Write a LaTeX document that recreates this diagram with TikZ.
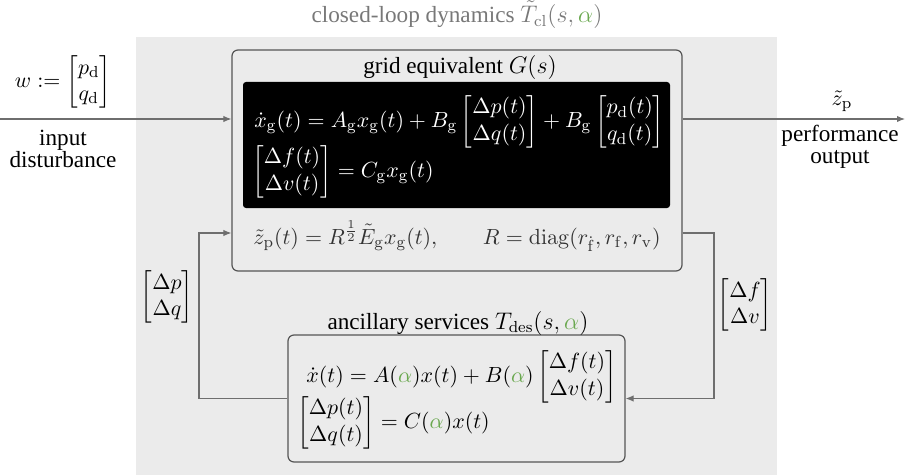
\documentclass[tikz,border=0pt]{standalone}
\usepackage{amsmath}
\usepackage[no-math]{fontspec}
\setmainfont{Liberation Serif}
\usetikzlibrary{arrows.meta}
\definecolor{bggrey}{RGB}{235,235,235}
\definecolor{framegrey}{RGB}{85,85,85}
\definecolor{wiregrey}{RGB}{110,110,110}
\definecolor{titlegrey}{RGB}{120,120,120}
\definecolor{alphagreen}{RGB}{106,168,79}
\newcommand{\ga}{{\color{alphagreen}\alpha}}
\tikzset{
  txt/.style={font=\fontsize{11.6}{11}\selectfont, align=center, inner sep=0pt},
  mlab/.style={font=\fontsize{11}{13}\selectfont, inner sep=0pt},
  blockbox/.style={draw=framegrey, line width=0.6pt, rounded corners=3pt, fill=bggrey},
  darkbox/.style={fill=black, rounded corners=1.5pt},
  wire/.style={draw=wiregrey, line width=0.55pt},
  arr/.style={wire, -{Latex[length=4pt,width=3.2pt]}},
  eqn/.style={inner sep=0pt, font=\fontsize{11.3}{13.5}\selectfont},
}
\begin{document}
\begin{tikzpicture}[x=0.5pt,y=-0.5pt]
  \useasboundingbox (0,0) rectangle (905,476);
  % shaded area of the closed loop
  \fill[bggrey] (136,37) rectangle (777,475);
  \node[txt, text=titlegrey] (cltitle) at (457,15) {closed-loop dynamics $\tilde{T}_{\mathrm{cl}}(s,\ga)$};

  % grid equivalent block
  \node[blockbox, minimum width=225pt, minimum height=110.5pt] (grid) at (457,160.5) {};
  \node[txt] (gridtitle) at (460,68) {grid equivalent $G(s)$};
  \node[darkbox, minimum width=213.5pt, minimum height=63pt] (blk) at (456.5,145) {};
  \node[eqn, text=white, anchor=west] (geq1) at (254,122)
    {$\dot{x}_{\mathrm{g}}(t) = A_{\mathrm{g}} x_{\mathrm{g}}(t) + B_{\mathrm{g}} \begin{bmatrix}\Delta p(t)\\ \Delta q(t)\end{bmatrix} + B_{\mathrm{g}} \begin{bmatrix}p_{\mathrm{d}}(t)\\ q_{\mathrm{d}}(t)\end{bmatrix}$};
  \node[eqn, text=white, anchor=west] (geq2) at (252,172)
    {$\begin{bmatrix}\Delta f(t)\\ \Delta v(t)\end{bmatrix} = C_{\mathrm{g}} x_{\mathrm{g}}(t)$};
  \node[eqn, text=black!80, anchor=base west] (zeq) at (253,244)
    {$\tilde{z}_{\mathrm{p}}(t) = R^{\frac{1}{2}} \tilde{E}_{\mathrm{g}} x_{\mathrm{g}}(t),$};
  \node[eqn, text=black!80, anchor=base east] (req) at (661,244)
    {$R = \mathrm{diag}(r_{\dot{\mathrm{f}}}, r_{\mathrm{f}}, r_{\mathrm{v}})$};

  % ancillary services block
  \node[blockbox, minimum width=168.5pt, minimum height=63.5pt] (anc) at (456.5,398.5) {};
  \node[txt] (anctitle) at (458,323) {ancillary services $T_{\mathrm{des}}(s,\ga)$};
  \node[eqn, anchor=west] (aeq1) at (306,377)
    {$\dot{x}(t) = A(\ga)x(t) + B(\ga) \begin{bmatrix}\Delta f(t)\\ \Delta v(t)\end{bmatrix}$};
  \node[eqn, anchor=west] (aeq2) at (297,423)
    {$\begin{bmatrix}\Delta p(t)\\ \Delta q(t)\end{bmatrix} = C(\ga)x(t)$};

  % external input and output
  \coordinate (inl) at (0,119);
  \coordinate (outr) at (905,119);
  \draw[arr] (inl) -- (inl -| grid.west);
  \draw[arr] (outr -| grid.east) -- (outr);
  \node[mlab] (wlab) at (63,82) {$w := \begin{bmatrix}p_{\mathrm{d}}\\ q_{\mathrm{d}}\end{bmatrix}$};
  \node[txt] (inlab) at (63,149) {input\\disturbance};
  \node[mlab] (zlab) at (842,101) {$\tilde{z}_{\mathrm{p}}$};
  \node[txt] (outlab) at (840,147) {performance\\output};

  % feedback interconnection
  \coordinate (rc) at (714,233);
  \coordinate (lc) at (199,233);
  \draw[arr] (rc -| grid.east) -- (rc) |- (anc.east);
  \draw[arr] (anc.west) -| (lc) -- (lc -| grid.west);
  \node[mlab] (dfdv) at (745,305) {$\begin{bmatrix}\Delta f\\ \Delta v\end{bmatrix}$};
  \node[mlab] (dpdq) at (167,297) {$\begin{bmatrix}\Delta p\\ \Delta q\end{bmatrix}$};
\end{tikzpicture}
\end{document}
